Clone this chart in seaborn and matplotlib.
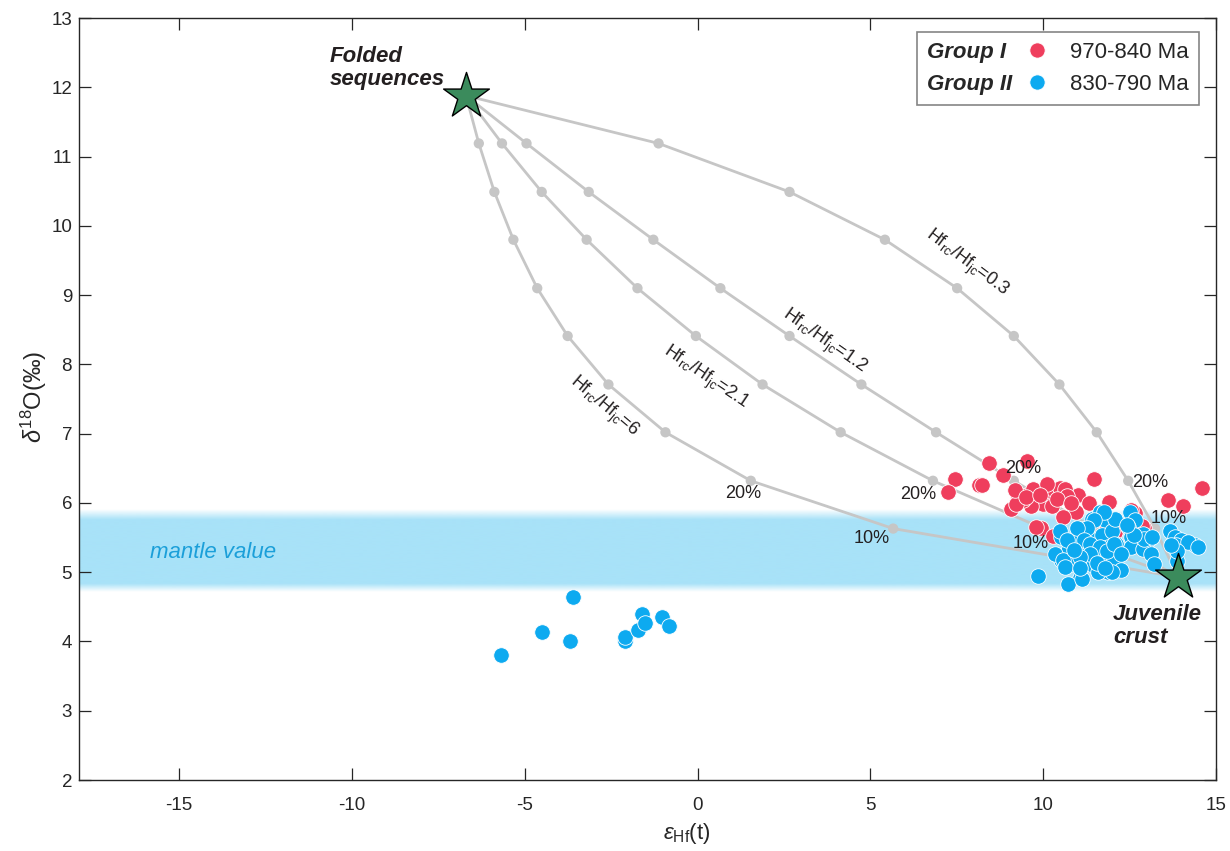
import numpy as np
import pandas as pd
import matplotlib
matplotlib.use("Agg")
import matplotlib.pyplot as plt
import seaborn as sns
from matplotlib.lines import Line2D

# ---------------- data ----------------
folded_xy = (-6.7, 11.88)      # "Folded sequences" end-member
juvenile_xy = (13.9, 4.93)     # "Juvenile crust" end-member

mix_fraction = [100, 90, 80, 70, 60, 50, 40, 30, 20, 10, 0]
mix_d18O = [11.88, 11.19, 10.49, 9.80, 9.10, 8.41, 7.71, 7.02, 6.32, 5.63, 4.93]
mix_eHf_r03 = [-6.70, -1.13, 2.66, 5.42, 7.51, 9.15, 10.47, 11.55, 12.46, 13.24, 13.90]
mix_eHf_r12 = [-6.70, -4.95, -3.15, -1.28, 0.66, 2.66, 4.74, 6.90, 9.15, 11.48, 13.90]
mix_eHf_r21 = [-6.70, -5.66, -4.51, -3.21, -1.74, -0.05, 1.88, 4.14, 6.81, 10.00, 13.90]
mix_eHf_r6 = [-6.70, -6.33, -5.88, -5.33, -4.64, -3.76, -2.58, -0.93, 1.54, 5.66, 13.90]
ratio_labels = ["0.3", "1.2", "2.1", "6"]

group1_eHf = [8.44, 9.54, 7.45, 7.25, 8.15, 8.22, 8.83, 11.46, 14.60, 13.62, 14.05, 12.65,
              11.90, 11.00, 11.34, 10.96, 10.58, 9.08, 9.27, 9.52, 9.71, 10.05, 10.29, 10.48,
              10.63, 9.80, 9.99, 10.26, 9.66, 9.42, 9.22, 10.68, 9.95, 10.29, 12.07, 12.63,
              12.92, 11.80, 10.90, 12.54, 12.86, 9.19, 9.51, 9.80, 10.40, 10.10, 9.90, 10.80]
group1_d18O = [6.57, 6.61, 6.35, 6.16, 6.26, 6.26, 6.41, 6.34, 6.22, 6.04, 5.96, 5.86,
               6.02, 6.11, 6.00, 5.87, 5.80, 5.91, 6.08, 6.12, 6.20, 6.15, 6.20, 6.22,
               6.20, 6.03, 5.98, 5.95, 5.95, 6.04, 5.98, 6.10, 5.64, 5.52, 5.58, 5.71,
               5.64, 5.72, 5.47, 5.90, 5.67, 6.19, 6.09, 5.65, 6.05, 6.28, 6.12, 6.00]

group2_eHf = [11.40, 11.64, 11.78, 11.11, 10.96, 10.53, 11.30, 11.69, 12.12, 11.98, 12.07, 12.50,
              12.65, 12.45, 11.88, 11.59, 11.30, 11.01, 10.72, 10.53, 10.82, 11.15, 11.45, 11.73,
              11.98, 11.88, 11.59, 11.06, 10.72, 9.86, 10.34, 10.50, 12.55, 12.55, 12.89, 13.03,
              12.89, 13.13, 13.21, 13.66, 13.81, 14.00, 13.85, 14.39, 14.20, 13.88, 13.88, 11.12,
              10.57, 10.64, 12.05, 12.24, 12.00, 12.92, 13.16, 12.63, 12.43, 11.75, 11.46, 11.27,
              10.97, 10.68, 11.17, 11.36, 11.65, 11.85, 12.05, 12.24, 11.36, 11.07, 11.56, 11.80,
              11.07, 10.88, 14.48, 13.70,
              -5.69, -4.50, -3.61, -3.70, -2.11, -2.11, -1.73, -1.62, -1.53, -1.04, -0.84]
group2_d18O = [5.77, 5.87, 5.75, 5.63, 5.51, 5.51, 5.51, 5.53, 5.41, 5.60, 5.77, 5.87,
               5.75, 5.65, 5.36, 5.27, 5.36, 5.27, 5.31, 5.17, 5.12, 5.14, 5.10, 5.17,
               5.12, 5.00, 5.00, 4.91, 4.83, 4.95, 5.27, 5.60, 5.51, 5.36, 5.55, 5.46,
               5.33, 5.26, 5.12, 5.60, 5.51, 5.46, 5.40, 5.39, 5.43, 5.16, 5.31, 4.90,
               5.18, 5.08, 5.18, 5.03, 5.00, 5.48, 5.51, 5.53, 5.68, 5.87, 5.75, 5.64,
               5.64, 5.46, 5.46, 5.41, 5.36, 5.31, 5.41, 5.27, 5.27, 5.22, 5.13, 5.06,
               5.06, 5.32, 5.36, 5.40,
               3.80, 4.14, 4.64, 4.01, 4.00, 4.07, 4.16, 4.39, 4.27, 4.35, 4.23]

mantle_low, mantle_high = 4.71, 5.90

# ---------------- style ----------------
sns.set_theme(style="white")
plt.rcParams["font.family"] = ["Liberation Sans", "DejaVu Sans"]
plt.rcParams["mathtext.fontset"] = "custom"
plt.rcParams["mathtext.rm"] = "Liberation Sans"
plt.rcParams["mathtext.it"] = "Liberation Sans:italic"
plt.rcParams["mathtext.bf"] = "Liberation Sans:bold"
plt.rcParams["mathtext.fallback"] = "stixsans"
plt.rcParams["axes.unicode_minus"] = False

RED = "#ef3e5d"
BLUE = "#0daaf0"
GREY = "#c6c6c6"
GREEN = "#3b8b5c"
TXT = "#231f20"
AX = "#262626"

fig = plt.figure(figsize=(12.3, 8.51), dpi=100)
ax = fig.add_axes([0.0642, 0.0834, 0.9244, 0.8954])
XMIN, XMAX = -17.9, 15
ax.set_xlim(XMIN, XMAX)
ax.set_ylim(2, 13)

# mantle band with soft edges
n = 200
yy = np.linspace(mantle_high, mantle_low, n)
alpha = np.clip((mantle_high - yy) / 0.15, 0, 1) * np.clip((yy - mantle_low) / 0.12, 0, 1)
rgb = matplotlib.colors.to_rgb("#a8e2f8")
img = np.zeros((n, 1, 4))
img[:, 0, :3] = rgb
img[:, 0, 3] = alpha
ax.imshow(img, extent=[XMIN, XMAX, mantle_low, mantle_high], aspect="auto",
          zorder=0, interpolation="bilinear")
ax.text(-15.85, 5.29, "mantle value", color="#1b9fd9", fontsize=16,
        style="italic", ha="left", va="center", zorder=1)

# mixing curves
curves = pd.DataFrame({
    "fraction": mix_fraction * 4,
    "d18O": mix_d18O * 4,
    "eHf": mix_eHf_r03 + mix_eHf_r12 + mix_eHf_r21 + mix_eHf_r6,
    "ratio": sum([[r] * len(mix_fraction) for r in ratio_labels], []),
})
sns.lineplot(data=curves, x="eHf", y="d18O", units="ratio", estimator=None, sort=False,
             color=GREY, lw=2.0, ax=ax, zorder=2)
inner = curves[(curves["fraction"] > 0) & (curves["fraction"] < 100)]
sns.scatterplot(data=inner, x="eHf", y="d18O", color=GREY, s=55, edgecolor="none",
                ax=ax, zorder=2.1, legend=False)

# curve labels
lab_kw = dict(fontsize=13, color=TXT, ha="center", va="center", rotation_mode="anchor")
ax.text(7.77, 9.46, r"Hf$_{\mathrm{rc}}$/Hf$_{\mathrm{jc}}$=0.3", rotation=-37, **lab_kw)
ax.text(3.67, 8.33, r"Hf$_{\mathrm{rc}}$/Hf$_{\mathrm{jc}}$=1.2", rotation=-35, **lab_kw)
ax.text(0.23, 7.80, r"Hf$_{\mathrm{rc}}$/Hf$_{\mathrm{jc}}$=2.1", rotation=-34, **lab_kw)
ax.text(-2.72, 7.39, r"Hf$_{\mathrm{rc}}$/Hf$_{\mathrm{jc}}$=6", rotation=-40, **lab_kw)

pct_kw = dict(fontsize=13, color=TXT, ha="center", va="center")
ax.text(1.33, 6.14, "20%", **pct_kw)
ax.text(5.03, 5.48, "10%", **pct_kw)
ax.text(6.39, 6.12, "20%", **pct_kw)
ax.text(9.65, 5.42, "10%", zorder=5, **pct_kw)
ax.text(9.42, 6.49, "20%", zorder=5, **pct_kw)
ax.text(13.09, 6.30, "20%", zorder=5, **pct_kw)
ax.text(13.64, 5.78, "10%", zorder=5, **pct_kw)

# samples
g1 = pd.DataFrame({"eHf": group1_eHf, "d18O": group1_d18O})
g2 = pd.DataFrame({"eHf": group2_eHf, "d18O": group2_d18O})
sns.scatterplot(data=g1, x="eHf", y="d18O", color=RED, s=125, edgecolor="white",
                linewidth=0.6, ax=ax, zorder=3, legend=False)
sns.scatterplot(data=g2, x="eHf", y="d18O", color=BLUE, s=125, edgecolor="white",
                linewidth=0.6, ax=ax, zorder=3.1, legend=False)

# end-members
ends = pd.DataFrame({"eHf": [folded_xy[0], juvenile_xy[0]],
                     "d18O": [folded_xy[1], juvenile_xy[1]]})
sns.scatterplot(data=ends, x="eHf", y="d18O", marker="*", s=1200, color=GREEN,
                edgecolor="black", linewidth=1.0, ax=ax, zorder=4, legend=False)
ax.text(-10.64, 12.28, "Folded\nsequences", fontsize=16, fontweight="bold",
        style="italic", color=TXT, ha="left", va="center", linespacing=1.1)
ax.text(12.02, 4.22, "Juvenile\ncrust", fontsize=16, fontweight="bold",
        style="italic", color=TXT, ha="left", va="center", linespacing=1.1)

# legend
blank = Line2D([], [], linestyle="none")
h_red = Line2D([], [], linestyle="none", marker="o", markersize=11,
               markerfacecolor=RED, markeredgecolor="white", markeredgewidth=0.6)
h_blue = Line2D([], [], linestyle="none", marker="o", markersize=11,
                markerfacecolor=BLUE, markeredgecolor="white", markeredgewidth=0.6)
leg = ax.legend([blank, Line2D([], [], linestyle="none"), h_red, h_blue],
                ["Group I", "Group II", "970-840 Ma", "830-790 Ma"],
                ncol=2, loc="upper right", bbox_to_anchor=(0.985, 0.982),
                borderaxespad=0, fontsize=16, handlelength=1.0, handletextpad=1.0,
                columnspacing=0.6, borderpad=0.45, labelspacing=0.5,
                frameon=True, fancybox=False, edgecolor="#666666")
leg.get_frame().set_linewidth(1.2)
for t in leg.get_texts()[:2]:
    t.set_fontweight("bold")
    t.set_fontstyle("italic")
# collapse blank handle boxes of the first column
try:
    handle_box = leg.get_children()[0].get_children()[1]
    col0 = handle_box.get_children()[0]
    for entry in col0.get_children():
        entry.sep = 0
        entry.get_children()[0].width = 0
except Exception:
    pass

# axes cosmetics
ax.set_xticks([-15, -10, -5, 0, 5, 10, 15])
ax.set_yticks(range(2, 14))
ax.tick_params(direction="in", length=8.5, width=0.9, colors=AX, labelsize=13.5,
               bottom=True, left=True, top=True, right=True)
ax.tick_params(axis="x", pad=12)
ax.tick_params(axis="y", pad=5)
for s in ax.spines.values():
    s.set_color(AX)
    s.set_linewidth(1.0)
ax.set_xlabel(r"$\epsilon_{\mathrm{Hf}}$(t)", fontsize=16, color=AX)
ax.set_ylabel(r"$\delta^{18}$O(‰)", fontsize=17, color=AX)
ax.xaxis.set_label_coords(0.535, -0.054)
ax.yaxis.set_label_coords(-0.026, 0.503)

fig.savefig("out.png", dpi=100)
